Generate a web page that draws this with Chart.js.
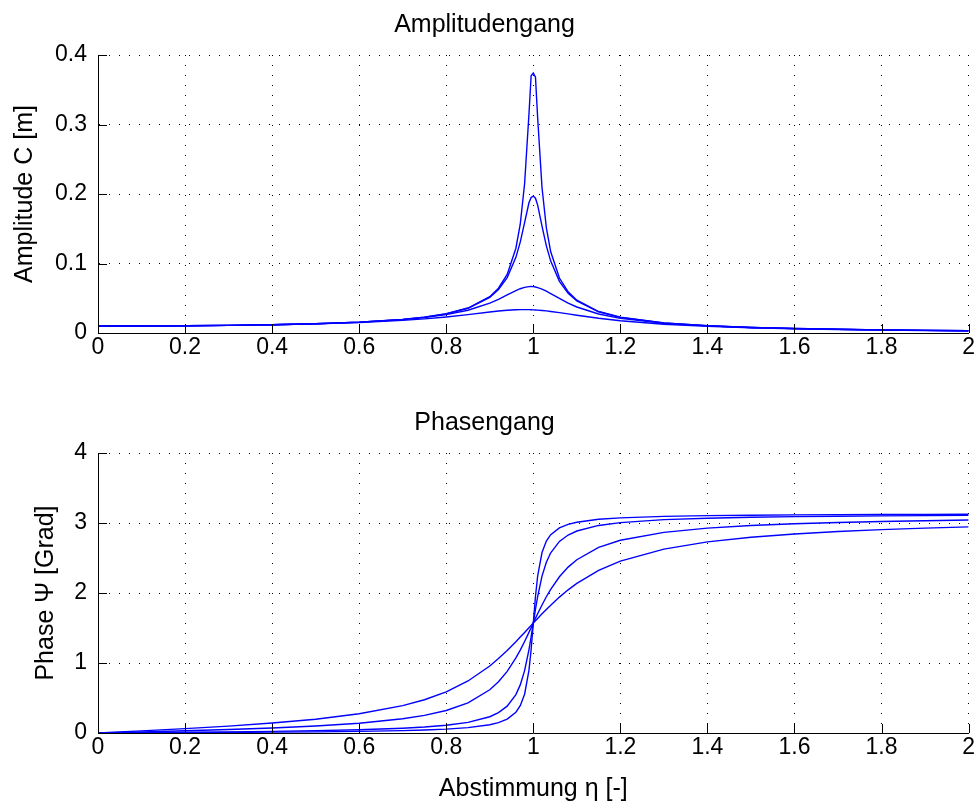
<!DOCTYPE html>
<html>
<head>
<meta charset="utf-8">
<script src="https://cdn.jsdelivr.net/npm/chart.js@4.4.1/dist/chart.umd.min.js"></script>
<style>
  html, body { margin: 0; padding: 0; background: #ffffff; }
  body { width: 978px; height: 807px; position: relative; overflow: hidden; }
  canvas { position: absolute; left: 0; }
  #ampChart { top: 0; }
  #phaseChart { top: 400px; }
</style>
</head>
<body>
<canvas id="ampChart" width="978" height="400"></canvas>
<canvas id="phaseChart" width="978" height="407"></canvas>
<script>
// ---- Data (Abstimmung eta on x) ----
const eta = [0, 0.1, 0.2, 0.3, 0.4, 0.5, 0.6, 0.7, 0.75, 0.8, 0.85, 0.9, 0.92, 0.94, 0.96, 0.97, 0.98, 0.99, 0.995, 1.0,
             1.005, 1.01, 1.02, 1.03, 1.04, 1.06, 1.08, 1.1, 1.15, 1.2, 1.3, 1.4, 1.5, 1.6, 1.7, 1.8, 1.9, 2.0];

// Amplitude C [m], four damping cases (sharpest peak first)
const amp1 = [0.0100, 0.0101, 0.0104, 0.0110, 0.0119, 0.0133, 0.0156, 0.0196, 0.0228, 0.0277, 0.0359, 0.0523, 0.0644, 0.0842, 0.1220, 0.1565, 0.2148, 0.3148, 0.3700, 0.3740,
              0.3680, 0.3098, 0.2093, 0.1512, 0.1168, 0.0791, 0.0593, 0.0472, 0.0309, 0.0227, 0.0145, 0.0104, 0.0080, 0.0064, 0.0053, 0.0045, 0.0038, 0.0033];
const amp2 = [0.0100, 0.0101, 0.0104, 0.0110, 0.0119, 0.0133, 0.0156, 0.0196, 0.0228, 0.0276, 0.0356, 0.0512, 0.0624, 0.0797, 0.1088, 0.1308, 0.1587, 0.1874, 0.1950, 0.1970,
              0.1940, 0.1840, 0.1537, 0.1254, 0.1034, 0.0744, 0.0572, 0.0461, 0.0305, 0.0225, 0.0144, 0.0104, 0.0080, 0.0064, 0.0053, 0.0045, 0.0038, 0.0033];
const amp3 = [0.0100, 0.0101, 0.0104, 0.0110, 0.0119, 0.0133, 0.0155, 0.0192, 0.0221, 0.0264, 0.0327, 0.0429, 0.0484, 0.0547, 0.0610, 0.0637, 0.0657, 0.0667, 0.0669, 0.0667,
              0.0662, 0.0654, 0.0632, 0.0602, 0.0568, 0.0497, 0.0431, 0.0374, 0.0273, 0.0210, 0.0139, 0.0102, 0.0079, 0.0063, 0.0052, 0.0044, 0.0038, 0.0033];
const amp4 = [0.0100, 0.0101, 0.0104, 0.0109, 0.0118, 0.0131, 0.0150, 0.0181, 0.0203, 0.0231, 0.0265, 0.0303, 0.0317, 0.0328, 0.0335, 0.0337, 0.0337, 0.0336, 0.0335, 0.0333,
              0.0331, 0.0329, 0.0324, 0.0318, 0.0310, 0.0293, 0.0275, 0.0256, 0.0212, 0.0176, 0.0126, 0.0095, 0.0075, 0.0061, 0.0051, 0.0043, 0.0037, 0.0033];

// Phase Psi, same four cases
const phase1 = [0, 0.0025, 0.0052, 0.0082, 0.0119, 0.0167, 0.0234, 0.0343, 0.0428, 0.0555, 0.0764, 0.1179, 0.1486, 0.1992, 0.2972, 0.3895, 0.5540, 0.8936, 1.1893, 1.5708,
                1.9504, 2.2430, 2.5784, 2.7415, 2.8330, 2.9303, 2.9807, 3.0114, 3.0527, 3.0735, 3.0945, 3.1051, 3.1116, 3.1160, 3.1191, 3.1215, 3.1234, 3.1249];
const phase2 = [0, 0.0051, 0.0104, 0.0165, 0.0238, 0.0333, 0.0468, 0.0685, 0.0855, 0.1107, 0.1520, 0.2326, 0.2910, 0.3838, 0.5493, 0.6872, 0.8911, 1.1885, 1.3728, 1.5708,
                1.7677, 1.9496, 2.2408, 2.4399, 2.5742, 2.7366, 2.8280, 2.8854, 2.9652, 3.0061, 3.0477, 3.0688, 3.0817, 3.0904, 3.0966, 3.1014, 3.1052, 3.1083];
const phase3 = [0, 0.0152, 0.0312, 0.0494, 0.0713, 0.0997, 0.1397, 0.2030, 0.2518, 0.3218, 0.4307, 0.6180, 0.7320, 0.8808, 1.0723, 1.1850, 1.3078, 1.4376, 1.5040, 1.5708,
                1.6372, 1.7027, 1.8286, 1.9462, 2.0527, 2.2316, 2.3697, 2.4756, 2.6507, 2.7532, 2.8661, 2.9262, 2.9635, 2.9890, 3.0075, 3.0216, 3.0328, 3.0419];
const phase4 = [0, 0.0303, 0.0624, 0.0986, 0.1419, 0.1974, 0.2742, 0.3905, 0.4748, 0.5880, 0.7430, 0.9576, 1.0630, 1.1794, 1.3051, 1.3704, 1.4369, 1.5039, 1.5374, 1.5708,
                1.6040, 1.6371, 1.7021, 1.7655, 1.8265, 1.9415, 2.0453, 2.1375, 2.3225, 2.4559, 2.6274, 2.7296, 2.7960, 2.8430, 2.8780, 2.9050, 2.9266, 2.9442];

// Tick values / labels
const xTickValues = [0, 0.2, 0.4, 0.6, 0.8, 1, 1.2, 1.4, 1.6, 1.8, 2];
const xTickLabels = ['0', '0.2', '0.4', '0.6', '0.8', '1', '1.2', '1.4', '1.6', '1.8', '2'];
const ampTickValues = [0, 0.1, 0.2, 0.3, 0.4];
const ampTickLabels = ['0', '0.1', '0.2', '0.3', '0.4'];
const phaseTickValues = [0, 1, 2, 3, 4];
const phaseTickLabels = ['0', '1', '2', '3', '4'];

// ---- Styling ----
const FONT = '"Liberation Sans", Arial, Helvetica, sans-serif';
const LINE_BLUE = '#0000ff';
const TICK_LEN = 9;   // ticks point into the plot (MATLAB style)

function toPoints(ys) { return eta.map((x, i) => ({ x: x, y: ys[i] })); }
function makeDatasets(series) {
  return series.map(s => ({
    data: toPoints(s),
    borderColor: LINE_BLUE,
    borderWidth: 1.4,
    pointRadius: 0,
    tension: 0,
    fill: false
  }));
}

// draws the inward tick marks at each scale tick, positioned through the scales
const inwardTicks = {
  id: 'inwardTicks',
  afterDraw(chart) {
    const { ctx, chartArea } = chart;
    const xs = chart.scales.x, ys = chart.scales.y;
    ctx.save();
    ctx.strokeStyle = '#000';
    ctx.lineWidth = 1;
    ctx.setLineDash([]);
    ctx.beginPath();
    xs.ticks.forEach(t => {
      const px = Math.round(xs.getPixelForValue(t.value)) + 0.5;
      ctx.moveTo(px, chartArea.bottom);
      ctx.lineTo(px, chartArea.bottom - TICK_LEN);
    });
    ys.ticks.forEach(t => {
      const py = Math.round(ys.getPixelForValue(t.value)) + 0.5;
      ctx.moveTo(chartArea.left, py);
      ctx.lineTo(chartArea.left + TICK_LEN, py);
    });
    ctx.stroke();
    ctx.restore();
  }
};

function makeChart(canvasId, cfg) {
  return new Chart(document.getElementById(canvasId), {
    type: 'line',
    data: { datasets: makeDatasets(cfg.series) },
    plugins: [inwardTicks],
    options: {
      responsive: false,
      animation: false,
      devicePixelRatio: 1,
      layout: { padding: { left: 0, right: 9, top: 0, bottom: 0 } },
      plugins: {
        legend: { display: false },
        tooltip: { enabled: false },
        title: {
          display: true,
          text: cfg.title,
          color: '#000',
          font: { family: FONT, size: 25, weight: 'normal', lineHeight: 1.2 },
          padding: { top: cfg.titlePadTop, bottom: cfg.titlePadBottom }
        }
      },
      scales: {
        x: {
          type: 'linear',
          min: 0, max: 2,
          afterBuildTicks: s => { s.ticks = xTickValues.map(v => ({ value: v })); },
          afterFit: s => { s.height = cfg.xAxisHeight; },
          ticks: {
            color: '#000',
            font: { family: FONT, size: 23, lineHeight: 1 },
            padding: 3,
            maxRotation: 0,
            autoSkip: false,
            callback: (v, i) => xTickLabels[i]
          },
          grid: { color: '#000', lineWidth: 1, drawTicks: false },
          border: { display: true, color: '#000', width: 1, dash: [1, 9] },
          title: cfg.xTitle ? {
            display: true, text: cfg.xTitle, color: '#000',
            font: { family: FONT, size: 25, lineHeight: 1.2 },
            padding: { top: 0, bottom: 3 }
          } : { display: false }
        },
        y: {
          type: 'linear',
          min: cfg.yMin, max: cfg.yMax,
          afterBuildTicks: s => { s.ticks = cfg.yTickValues.map(v => ({ value: v })); },
          afterFit: s => { s.width = 98; },
          ticks: {
            color: '#000',
            font: { family: FONT, size: 23, lineHeight: 1 },
            padding: 11,
            autoSkip: false,
            callback: (v, i) => cfg.yTickLabels[i]
          },
          grid: { color: '#000', lineWidth: 1, drawTicks: false },
          border: { display: true, color: '#000', width: 1, dash: [1, 9] },
          title: {
            display: true, text: cfg.yTitle, color: '#000',
            font: { family: FONT, size: 25, lineHeight: 1.2 },
            padding: { top: cfg.yTitlePad, bottom: 0 }
          }
        }
      }
    }
  });
}

makeChart('ampChart', {
  series: [amp1, amp2, amp3, amp4],
  title: 'Amplitudengang',
  titlePadTop: 10, titlePadBottom: 15,
  xAxisHeight: 67,
  yMin: 0, yMax: 0.4,
  yTickValues: ampTickValues, yTickLabels: ampTickLabels,
  yTitle: 'Amplitude C [m]', yTitlePad: 10
});

makeChart('phaseChart', {
  series: [phase1, phase2, phase3, phase4],
  title: 'Phasengang',
  titlePadTop: 8, titlePadBottom: 15,
  xAxisHeight: 74,
  xTitle: 'Abstimmung η [-]',
  yMin: 0, yMax: 4,
  yTickValues: phaseTickValues, yTickLabels: phaseTickLabels,
  yTitle: 'Phase Ψ [Grad]', yTitlePad: 31
});
</script>
</body>
</html>
